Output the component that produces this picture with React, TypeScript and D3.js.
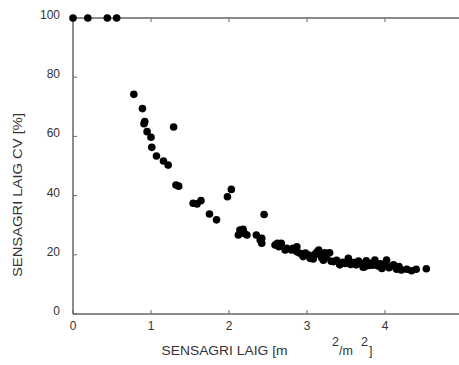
import React from "react";
import * as d3 from "d3";

const laig: number[] = [
  0, 0.19, 0.44, 0.56,
  0.78, 0.89, 0.92, 0.91, 0.95, 1.0, 1.01, 1.07, 1.16, 1.22, 1.29, 1.32, 1.355,
  1.54, 1.59, 1.64, 1.75, 1.84, 1.98, 2.03,
  2.12, 2.14, 2.18, 2.2, 2.23, 2.35, 2.4, 2.42, 2.42, 2.45,
  2.59, 2.62, 2.64, 2.67, 2.72, 2.74, 2.8, 2.82, 2.87, 2.87, 2.91, 2.95,
  2.98, 3.02, 3.04, 3.06, 3.08, 3.1, 3.13, 3.15, 3.17, 3.19, 3.21, 3.23, 3.25, 3.29, 3.31, 3.34,
  3.38, 3.42, 3.46, 3.49, 3.53, 3.56, 3.6, 3.63, 3.66, 3.69, 3.72, 3.74, 3.76, 3.79, 3.81, 3.84, 3.87,
  3.91, 3.94, 3.96, 3.99, 4.02, 4.05, 4.08, 4.11, 4.15, 4.18, 4.21, 4.28, 4.34, 4.4, 4.53,
];
const cv: number[] = [
  100, 100, 100, 100,
  74.2, 69.4, 65, 64.3, 61.6, 59.7, 56.3, 53.4, 51.7, 50.3, 63.2, 43.6, 43.2,
  37.4, 37.2, 38.3, 33.8, 31.8, 39.6, 42.1,
  26.7, 28.4, 28.6, 27.2, 26.7, 26.7, 25, 25.6, 23.9, 33.6,
  23.3, 23.9, 22.7, 23.9, 21.6, 22.2, 21.6, 22.2, 21, 22.7, 20.5, 19.4,
  20.6, 19.9, 18.8, 19.4, 18.6, 20.2, 21, 21.6, 19.9, 18.9, 18.2, 20.7, 19.2, 20.7, 17.8, 17.7,
  18.1, 16.6, 17.5, 17.1, 18.8, 16.7, 17.4, 16.6, 17.9, 17.1, 15.8, 16, 18.0, 16.4, 17.1, 16.5, 18.2,
  16.2, 17.0, 15.4, 16.8, 18.2, 15.6, 16.1, 16.6, 15.1, 16.0, 14.9, 15.1, 14.6, 15.1, 15.3,
];

const xTicks: number[] = [0, 1, 2, 3, 4];
const yTicks: number[] = [0, 20, 40, 60, 80, 100];

export default function App() {
  const W = 459;
  const H = 365;
  const left = 73;
  const top = 18;
  const bottom = 314;
  const x = d3.scaleLinear().domain([0, 5]).range([left, left + 78 * 5]);
  const y = d3.scaleLinear().domain([0, 100]).range([bottom, top]);
  const axisColor = "#666";
  const textColor = "#333";
  const font = "Arial, 'Liberation Sans', sans-serif";
  const pts = laig.map((v, i) => ({ x: v, y: cv[i] }));

  return (
    <svg
      width={W}
      height={H}
      style={{ position: "absolute", left: 0, top: 0, background: "#fff" }}
      fontFamily={font}
    >
      <line x1={left} x2={W} y1={top} y2={top} stroke={axisColor} strokeWidth={1.5} />
      <line x1={left} x2={W} y1={bottom} y2={bottom} stroke={axisColor} strokeWidth={1.5} />
      <line x1={left} x2={left} y1={top} y2={bottom} stroke={axisColor} strokeWidth={1.5} />
      {xTicks.map((t) => (
        <g key={"xt" + t}>
          <line x1={x(t)} x2={x(t)} y1={bottom} y2={bottom - 4} stroke={axisColor} strokeWidth={1} />
          <line x1={x(t)} x2={x(t)} y1={top} y2={top + 4} stroke={axisColor} strokeWidth={1} />
          <text x={x(t)} y={330} textAnchor="middle" fontSize={12} fill={textColor}>
            {t}
          </text>
        </g>
      ))}
      {yTicks.map((t) => (
        <g key={"yt" + t}>
          <line x1={left} x2={left + 4} y1={y(t)} y2={y(t)} stroke={axisColor} strokeWidth={1} />
          <text x={60} y={y(t) + 1} textAnchor="end" fontSize={12} fill={textColor}>
            {t}
          </text>
        </g>
      ))}
      {pts.map((p, i) => (
        <circle key={i} cx={x(p.x)} cy={y(p.y)} r={3.8} fill="#000" />
      ))}
      <text x={161.5} y={355} fontSize={12.5} fill={textColor} textLength={126} lengthAdjust="spacingAndGlyphs">
        SENSAGRI LAIG [m
      </text>
      <text x={332} y={346} fontSize={12.5} fill={textColor}>
        2
      </text>
      <text x={339} y={355} fontSize={12.5} fill={textColor}>
        /m
      </text>
      <text x={361} y={346} fontSize={12.5} fill={textColor}>
        2
      </text>
      <text x={369} y={355} fontSize={12.5} fill={textColor}>
        ]
      </text>
      <text
        transform={`translate(22,195) rotate(-90)`}
        textAnchor="middle"
        fontSize={12.5}
        fill={textColor}
        textLength={164}
        lengthAdjust="spacingAndGlyphs"
      >
        SENSAGRI LAIG CV [%]
      </text>
    </svg>
  );
}
